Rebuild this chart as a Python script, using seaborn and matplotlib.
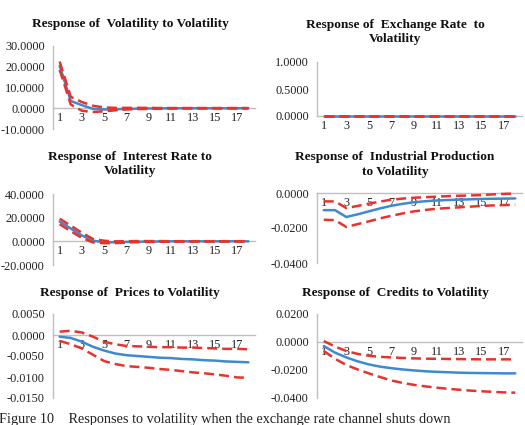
import matplotlib
matplotlib.use("Agg")
import matplotlib.pyplot as plt
import seaborn as sns
import pandas as pd
import numpy as np
from matplotlib.ticker import FormatStrFormatter

sns.set_style("white")
plt.rcParams['font.family'] = ['Liberation Serif', 'DejaVu Serif']

periods = list(range(1, 19))
xtick_labels = [1, 3, 5, 7, 9, 11, 13, 15, 17]

titles = [
    "Response of  Volatility to Volatility",
    "Response of  Exchange Rate  to\nVolatility",
    "Response of  Interest Rate to\nVolatility",
    "Response of  Industrial Production\nto Volatility",
    "Response of  Prices to Volatility",
    "Response of  Credits to Volatility",
]

vol_mid = [20.5, 3.5, 1.5, -0.3, -0.6, -0.5, -0.3, -0.2, -0.1, -0.1, 0.0, 0.0, 0.0, 0.0, 0.0, 0.0, 0.0, 0.0]
vol_up = [22.5, 5.5, 3.0, 1.2, 0.4, 0.2, 0.2, 0.2, 0.2, 0.1, 0.1, 0.1, 0.1, 0.1, 0.1, 0.1, 0.1, 0.1]
vol_lo = [18.5, 1.8, -1.2, -1.8, -1.5, -1.0, -0.6, -0.4, -0.3, -0.2, -0.1, -0.1, -0.1, -0.1, -0.1, -0.1, -0.1, -0.1]

exr_mid = [0.0] * 18
exr_up = [0.0] * 18
exr_lo = [0.0] * 18

int_mid = [16.7, 10.8, 5.0, 0.6, -0.8, -0.8, -0.5, -0.3, -0.2, -0.1, 0.0, 0.0, 0.0, 0.0, 0.0, 0.0, 0.0, 0.0]
int_up = [19.1, 13.2, 7.3, 2.0, 0.5, 0.0, 0.1, 0.2, 0.2, 0.2, 0.1, 0.1, 0.1, 0.1, 0.1, 0.1, 0.1, 0.1]
int_lo = [14.5, 8.5, 2.9, -0.9, -1.6, -1.5, -1.0, -0.7, -0.5, -0.3, -0.2, -0.2, -0.1, -0.1, -0.1, -0.1, -0.1, -0.1]

ip_mid = [-0.0098, -0.0098, -0.0137, -0.0122, -0.0105, -0.0088, -0.0073, -0.0062, -0.0053, -0.0047, -0.0043, -0.0040, -0.0038, -0.0036, -0.0034, -0.0033, -0.0032, -0.0031]
ip_up = [-0.0048, -0.0048, -0.0086, -0.0074, -0.0061, -0.0049, -0.0038, -0.0032, -0.0027, -0.0024, -0.0021, -0.0018, -0.0016, -0.0014, -0.0012, -0.0008, -0.0005, -0.0003]
ip_lo = [-0.0153, -0.0155, -0.0194, -0.0178, -0.0162, -0.0145, -0.0130, -0.0117, -0.0105, -0.0097, -0.0090, -0.0086, -0.0082, -0.0078, -0.0074, -0.0071, -0.0069, -0.0067]

pr_mid = [-0.0004, -0.0007, -0.0016, -0.0028, -0.0037, -0.0044, -0.0048, -0.0050, -0.0052, -0.0054, -0.0055, -0.0057, -0.0058, -0.0060, -0.0061, -0.0063, -0.0064, -0.0065]
pr_up = [0.0008, 0.0010, 0.0006, -0.0004, -0.0016, -0.0022, -0.0026, -0.0027, -0.0028, -0.0029, -0.0029, -0.0030, -0.0030, -0.0031, -0.0032, -0.0033, -0.0033, -0.0034]
pr_lo = [-0.0014, -0.0022, -0.0032, -0.0047, -0.0062, -0.0069, -0.0074, -0.0076, -0.0078, -0.0081, -0.0083, -0.0086, -0.0089, -0.0091, -0.0094, -0.0097, -0.0101, -0.0102]

cr_mid = [-0.0029, -0.0076, -0.0110, -0.0138, -0.0160, -0.0176, -0.0187, -0.0196, -0.0203, -0.0209, -0.0213, -0.0216, -0.0219, -0.0221, -0.0222, -0.0223, -0.0224, -0.0224]
cr_up = [0.0007, -0.0033, -0.0064, -0.0085, -0.0098, -0.0106, -0.0110, -0.0114, -0.0117, -0.0119, -0.0120, -0.0121, -0.0122, -0.0123, -0.0124, -0.0124, -0.0124, -0.0124]
cr_lo = [-0.0064, -0.0120, -0.0164, -0.0196, -0.0224, -0.0250, -0.0275, -0.0292, -0.0306, -0.0317, -0.0326, -0.0334, -0.0341, -0.0347, -0.0352, -0.0356, -0.0360, -0.0362]

series = [
    (vol_mid, vol_up, vol_lo),
    (exr_mid, exr_up, exr_lo),
    (int_mid, int_up, int_lo),
    (ip_mid, ip_up, ip_lo),
    (pr_mid, pr_up, pr_lo),
    (cr_mid, cr_up, cr_lo),
]

yticks = [
    [-10, 0, 10, 20, 30],
    [0, 0.5, 1.0],
    [-20, 0, 20, 40],
    [-0.04, -0.02, 0.0],
    [-0.015, -0.01, -0.005, 0.0, 0.005],
    [-0.04, -0.02, 0.0, 0.02],
]

W, H = 525, 425
# axes boxes in pixels: left, right, top, bottom
boxes = [
    (53, 255, 46, 129),
    (317, 522, 62, 116),
    (53, 255, 194, 265),
    (317, 522, 193, 263),
    (53, 255, 314, 398),
    (317, 522, 314, 398),
]
title_pos = [(130, 24), (395, 32), (130, 164), (395, 164.5), (130, 293), (395, 293)]

BLUE = "#3C8AD0"
RED = "#E8332C"
GRAY = "#BFBFBF"

fig = plt.figure(figsize=(W / 100, H / 100), dpi=100)

for i, (mid, up, lo) in enumerate(series):
    l, r, t, b = boxes[i]
    ax = fig.add_axes([l / W, 1 - b / H, (r - l) / W, (b - t) / H])
    df = pd.DataFrame({"period": periods, "mid": mid, "up": up, "lo": lo})
    sns.lineplot(data=df, x="period", y="mid", ax=ax, color=BLUE, linewidth=1.8,
                 clip_on=False, zorder=3)
    sns.lineplot(data=df, x="period", y="up", ax=ax, color=RED, linewidth=1.8,
                 linestyle=(0, (4, 2)), clip_on=False, zorder=4)
    sns.lineplot(data=df, x="period", y="lo", ax=ax, color=RED, linewidth=1.8,
                 linestyle=(0, (4, 2)), clip_on=False, zorder=4)
    yt = yticks[i]
    ax.set_ylim(min(yt), max(yt))
    ax.set_yticks(yt)
    ax.yaxis.set_major_formatter(FormatStrFormatter("%.4f"))
    ax.set_xlim(0.4, 18.6)
    ax.set_xticks(xtick_labels)
    ax.set_xticklabels([str(v) for v in xtick_labels])
    ax.set_xlabel("")
    ax.set_ylabel("")
    for s in ["top", "right"]:
        ax.spines[s].set_visible(False)
    ax.spines["bottom"].set_position(("data", 0))
    ax.spines["bottom"].set_color(GRAY)
    ax.spines["left"].set_color(GRAY)
    ax.spines["bottom"].set_linewidth(1.0)
    ax.spines["left"].set_linewidth(1.0)
    ax.spines["bottom"].set_zorder(1)
    ax.spines["left"].set_zorder(1)
    ax.tick_params(axis="both", length=0, labelsize=8.8, colors="#222222")
    ax.tick_params(axis="y", pad=6)
    ax.tick_params(axis="x", pad=3)
    ax.set_facecolor("none")
    tx, ty = title_pos[i]
    fig.text(tx / W, 1 - ty / H, titles[i], ha="center", va="center",
             fontsize=9.6, fontweight="bold", linespacing=1.3, color="#111111")

fig.text(-1 / W, 1 - 419 / H,
         "Figure 10    Responses to volatility when the exchange rate channel shuts down",
         ha="left", va="center", fontsize=10.3, color="#222222")

fig.savefig("out.png", dpi=100)
